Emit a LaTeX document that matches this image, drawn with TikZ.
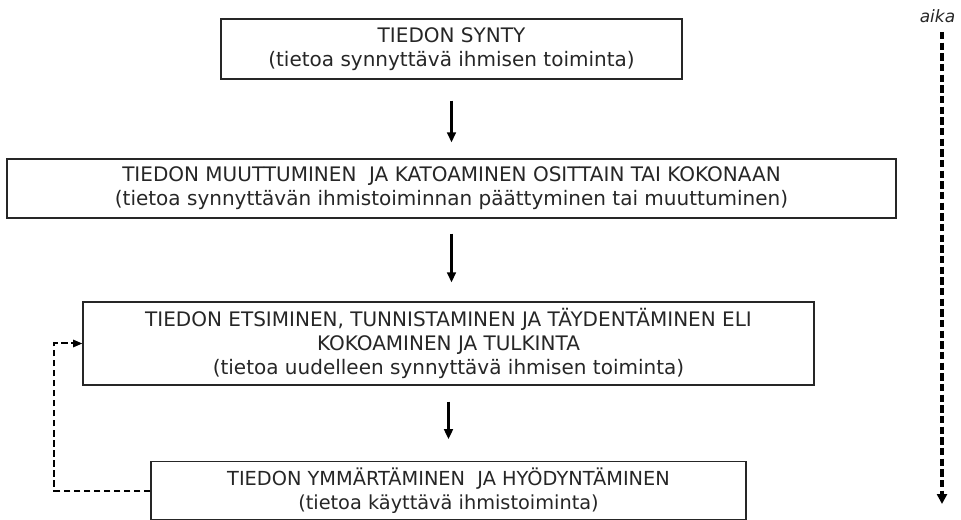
\documentclass[tikz,border=0pt]{standalone}
\usepackage{fontspec}
\setmainfont{DejaVu Sans}
\usetikzlibrary{arrows.meta}

\begin{document}
\begin{tikzpicture}[x=0.75pt,y=-0.75pt,
    box/.style={draw=black!85,line width=0.9pt,align=center,inner sep=0pt,
      text=black!85,font=\fontsize{15}{18}\selectfont},
    flow/.style={line width=1.8pt,-{Triangle[length=7.5pt,width=6.5pt]}},
    back/.style={line width=1.5pt,dash pattern=on 5pt off 2.5pt,
      -{Triangle[length=7pt,width=5.5pt]}},
    timeline/.style={line width=2.4pt,dash pattern=on 5.5pt off 2.5pt,
      -{Triangle[length=7.5pt,width=7.5pt]}}]

	\useasboundingbox (0,0) rectangle (961,520);

	\node[box,minimum width=345.75pt,minimum height=45pt] (synty) at
        (451.5,49) {TIEDON SYNTY\\(tietoa synnyttävä ihmisen toiminta)};
	\node[box,minimum width=666.75pt,minimum height=44.25pt] (muutos) at
        (451.5,188.5) {TIEDON MUUTTUMINEN\ \ JA KATOAMINEN OSITTAIN TAI
        KOKONAAN\\(tietoa synnyttävän ihmistoiminnan päättyminen tai
        muuttuminen)};
	\node[box,minimum width=548.25pt,minimum height=62.25pt] (keruu) at
        (448.5,343.5) {TIEDON ETSIMINEN, TUNNISTAMINEN JA TÄYDENTÄMINEN
        ELI\\KOKOAMINEN JA TULKINTA\\(tietoa uudelleen synnyttävä ihmisen
        toiminta)};
	\node[box,font=\fontsize{14.5}{18}\selectfont,minimum width=446.25pt,
        minimum height=43pt] (kaytto) at (448.5,490.5) {TIEDON
        YMMÄRTÄMINEN\ \ JA HYÖDYNTÄMINEN\\(tietoa käyttävä ihmistoiminta)};

	\draw[flow,shorten <=15.75pt,shorten >=12pt] (synty) -- (muutos);
	\draw[flow,shorten <=11.25pt,shorten >=14.25pt] (muutos.south) --
        (muutos.south |- keruu.north);
	\draw[flow,shorten <=12pt,shorten >=16.5pt] (keruu) -- (kaytto);
	\draw[back] (kaytto.west) -- ++(-96,0) |- (keruu.west);

	\node[font=\itshape\fontsize{12.75}{15}\selectfont,anchor=base,
        inner sep=0pt,text=black!85] (aika) at (937.5,23) {aika};
	\coordinate (tstart) at (942,32); \coordinate (tend) at (942,504);
	\draw[timeline] (tstart) -- (tend);
\end{tikzpicture}
\end{document}
